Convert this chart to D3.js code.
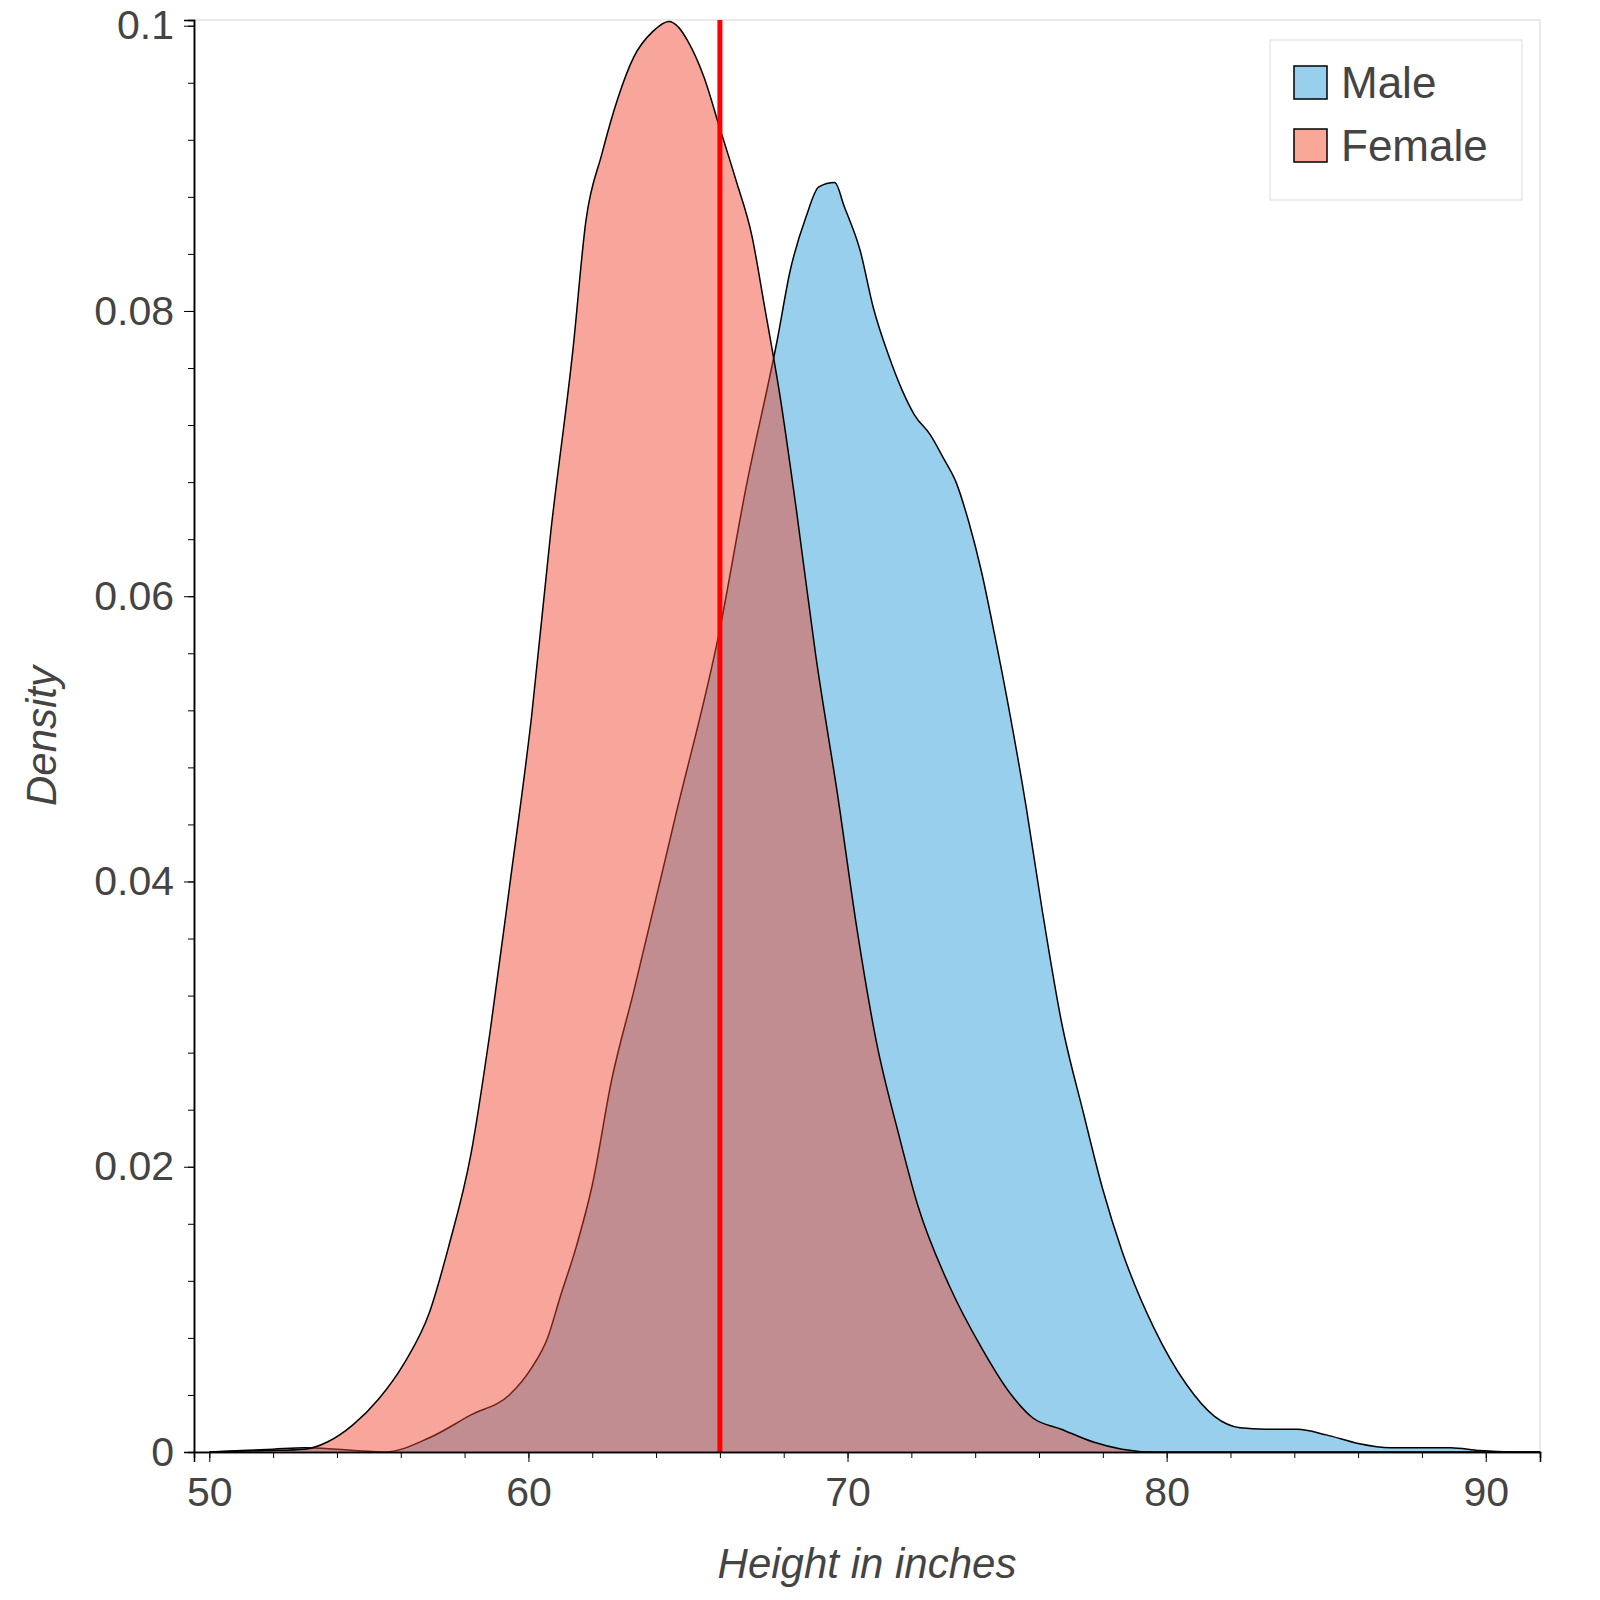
<!DOCTYPE html>
<html><head><meta charset="utf-8">
<script src="https://cdn.jsdelivr.net/npm/d3@7"></script>
<style>body{margin:0;background:#fff;font-family:"Liberation Sans",Arial,sans-serif;}</style>
</head><body><div id="chart"></div>
<script>
// density curves: [height in inches, density]
const maleX = [50,52,53,55.5,56.9,58.2,59.4,60.1,60.6,61,61.5,62,62.6,63.3,64.6,66,66.8,67.8,68.2,68.7,69.1,69.6,69.9,70.4,70.8,71.3,71.7,72.1,72.6,73,73.4,73.8,74.2,74.6,75.1,75.6,76.1,76.7,77.4,78,78.6,79.6,80.6,81.5,82.3,83.1,84.1,85,86,87,88.2,88.9,89.8,90.8,91.7];
const maleY = [0,0.0002,0.0003,0,0.001,0.0026,0.004,0.0059,0.008,0.0109,0.0144,0.0187,0.026,0.0323,0.0445,0.0577,0.0674,0.078,0.0828,0.0866,0.0887,0.089,0.0873,0.0842,0.0803,0.0768,0.0745,0.0727,0.0713,0.0697,0.068,0.0652,0.0617,0.0574,0.0516,0.0452,0.038,0.0302,0.0237,0.0184,0.0141,0.0087,0.0048,0.0025,0.0017,0.0016,0.0016,0.0012,0.0006,0.0003,0.0003,0.0003,0.0001,0,0];
const femaleX = [50,51.8,53,53.7,54.5,55.3,56.1,56.9,57.5,58.2,58.8,59.4,60.1,60.7,61.4,61.8,62.3,62.8,63.3,63.9,64.4,64.7,65,65.5,66,66.5,67,67.4,67.9,68.4,69,69.7,70.3,70.9,71.6,72.2,73.2,74.2,75.1,75.8,76.7,77.7,78.6,79.6,91.7];
const femaleY = [0,0.0001,0.0002,0.0007,0.0019,0.0037,0.0062,0.0098,0.0144,0.0209,0.0295,0.0395,0.0516,0.0645,0.0774,0.0863,0.091,0.0949,0.0978,0.0996,0.1003,0.0999,0.0989,0.0964,0.0928,0.0892,0.0853,0.0803,0.0738,0.066,0.0559,0.0459,0.0366,0.0288,0.0223,0.0173,0.0116,0.0073,0.0041,0.0024,0.0016,0.0007,0.0002,0,0];
const meanLine = 66;
const xTicks = [50,60,70,80,90];
const yTicks = [0,0.02,0.04,0.06,0.08,0.1];
const seriesNames = ["Male","Female"];

const W = 1600, H = 1600;
const m = {top:20, right:60, bottom:148, left:194};
const svg = d3.select("#chart").append("svg").attr("width",W).attr("height",H);

const x = d3.scaleLinear().domain([49.52,91.7]).range([m.left, W-m.right]);
const y = d3.scaleLinear().domain([0,0.1004]).range([H-m.bottom, m.top]);

// plot frame
svg.append("rect").attr("x",m.left).attr("y",m.top)
  .attr("width",W-m.right-m.left).attr("height",H-m.bottom-m.top)
  .attr("fill","none").attr("stroke","#e4e4e4").attr("stroke-width",1.5);

const area = d3.area().curve(d3.curveMonotoneX)
  .x(d=>x(d[0])).y0(y(0)).y1(d=>y(d[1]));
const line = d3.line().curve(d3.curveMonotoneX).x(d=>x(d[0])).y(d=>y(d[1]));

const male = maleX.map((v,i)=>[v,maleY[i]]);
const female = femaleX.map((v,i)=>[v,femaleY[i]]);

svg.append("path").datum(male).attr("d",area).attr("fill","#97cfec");
svg.append("path").datum(male).attr("d",line).attr("fill","none").attr("stroke","#000").attr("stroke-width",1.5);
svg.append("path").datum(female).attr("d",area).attr("fill","rgb(240,70,45)").attr("fill-opacity",0.48);
svg.append("path").datum(female).attr("d",line).attr("fill","none").attr("stroke","#000").attr("stroke-width",1.5);

svg.append("line").attr("x1",x(meanLine)).attr("x2",x(meanLine))
  .attr("y1",m.top).attr("y2",H-m.bottom).attr("stroke","red").attr("stroke-width",5);

// axes
const xg = svg.append("g").attr("transform",`translate(0,${H-m.bottom})`);
xg.call(d3.axisBottom(x).tickValues(d3.range(50,92,2)).tickSize(6).tickFormat(""));
xg.append("g").call(d3.axisBottom(x).tickValues(xTicks).tickSize(10).tickFormat(d3.format("d")));
const yg = svg.append("g").attr("transform",`translate(${m.left},0)`);
yg.call(d3.axisLeft(y).tickValues(d3.range(0,0.1001,0.004)).tickSize(6).tickFormat(""));
yg.append("g").call(d3.axisLeft(y).tickValues(yTicks).tickSize(10).tickFormat(d=>d===0?"0":d3.format("")(+d.toFixed(2))));
svg.selectAll(".domain").attr("stroke","#000").attr("stroke-width",1.5);
svg.selectAll(".tick line").attr("stroke","#000");
svg.selectAll(".tick text").attr("font-size",41).attr("fill","#444").attr("font-family","Liberation Sans, Arial, sans-serif");
xg.selectAll("text").attr("dy","1.0em");
yg.selectAll("text").attr("x",-20);

svg.append("text").attr("x",(m.left+W-m.right)/2).attr("y",H-22).attr("text-anchor","middle")
  .attr("font-size",42).attr("font-style","italic").attr("fill","#444").text("Height in inches");
svg.append("text").attr("transform",`translate(56,${(m.top+H-m.bottom)/2}) rotate(-90)`)
  .attr("text-anchor","middle").attr("font-size",42).attr("font-style","italic").attr("fill","#444").text("Density");

// legend
const lg = svg.append("g").attr("transform",`translate(${W-m.right-270},40)`);
lg.append("rect").attr("width",252).attr("height",160).attr("fill","#fff").attr("stroke","#e8e8e8").attr("stroke-width",1.5);
const colors = ["#97cfec","#f9a898"];
seriesNames.forEach((n,i)=>{
  lg.append("rect").attr("x",24).attr("y",26+i*63).attr("width",33).attr("height",33)
    .attr("fill",colors[i]).attr("stroke","#000").attr("stroke-width",1.5);
  lg.append("text").attr("x",71).attr("y",58+i*63).attr("font-size",44).attr("fill","#444").text(n);
});
</script></body></html>
